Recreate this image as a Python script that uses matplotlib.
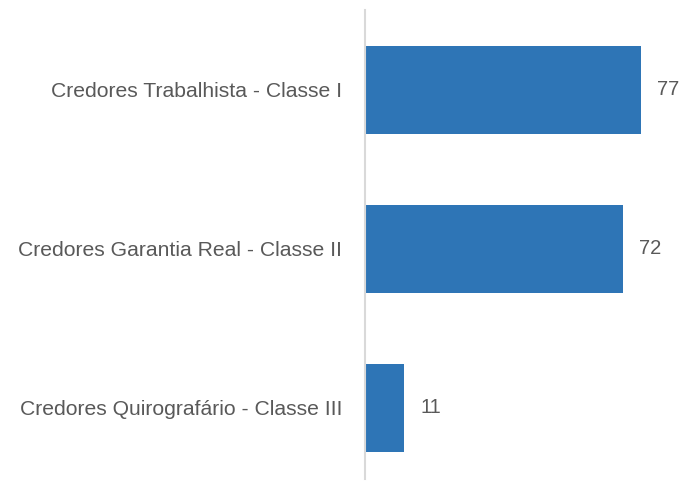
import matplotlib
matplotlib.use('Agg')
import matplotlib.pyplot as plt

categorias = ['Credores Trabalhista - Classe I',
              'Credores Garantia Real - Classe II',
              'Credores Quirografário - Classe III']
valores = [77, 72, 11]

cor_barra = '#2E75B6'
cor_texto = '#595959'

plt.rcParams['font.family'] = ['Liberation Sans', 'DejaVu Sans']

fig = plt.figure(figsize=(6.82, 4.82), dpi=100)
ax = fig.add_axes([365 / 682, 3 / 482, 317 / 682, 469 / 482])

pos = list(range(len(categorias)))
ax.barh(pos, valores, height=0.553, color=cor_barra)

ax.set_xlim(0, 317 / 3.58)
ax.set_ylim(2.447, -0.503)

# rotulos de valor a direita das barras
for p, v in zip(pos, valores):
    ax.annotate(str(v), xy=(v, p), xytext=(16, 0), textcoords='offset pixels',
                ha='left', va='center', fontsize=14.5, color=cor_texto)

ax.set_yticks(pos)
ax.set_yticklabels(categorias, fontsize=15.2, color=cor_texto)
ax.tick_params(axis='y', length=0, pad=16.5)
ax.set_xticks([])

for lado in ['top', 'right', 'bottom']:
    ax.spines[lado].set_visible(False)
ax.spines['left'].set_color('#D9D9D9')
ax.spines['left'].set_linewidth(1.5)

plt.savefig('out.png', dpi=100)
plt.close()
